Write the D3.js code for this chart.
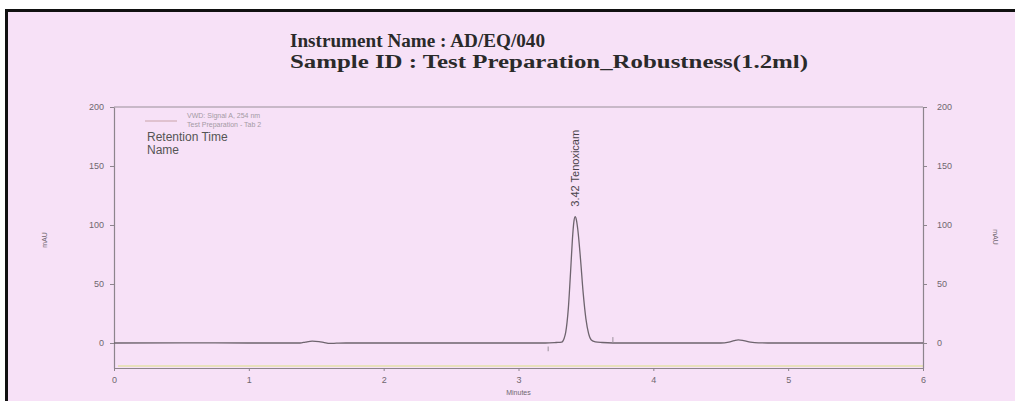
<!DOCTYPE html>
<html>
<head>
<meta charset="utf-8">
<script src="https://cdn.jsdelivr.net/npm/d3@7"></script>
<style>
  body { margin: 0; background: white; }
  svg { display: block; }
</style>
</head>
<body>
<script>
// chromatogram
var timeMin = [0.00, 0.50, 1.00, 1.38, 1.42, 1.47, 1.52, 1.56, 1.60, 1.65, 1.72, 2.50,
  3.20, 3.28, 3.32, 3.34, 3.35, 3.36, 3.37, 3.38, 3.39, 3.40, 3.41, 3.42, 3.43, 3.44,
  3.46, 3.48, 3.50, 3.52, 3.54, 3.57, 3.62, 3.70, 4.50, 4.56, 4.60, 4.63, 4.67, 4.72,
  4.78, 4.85, 6.00]
var signalMAU = [0, 0.1, 0, 0, 0.8, 1.5, 1.2, 0.3, -0.4, -0.2, 0, 0,
  0, 0.4, 0.7, 4.4, 9, 17.5, 30, 48, 68, 88, 102, 107, 104, 96,
  71, 42, 20.5, 8, 2.6, 1, 0.4, 0, 0, 0.8, 2, 2.6, 2, 0.8,
  0.1, 0, 0]
var xTicks = [0, 1, 2, 3, 4, 5, 6]
var yTicks = [0, 50, 100, 150, 200]
var markerTimes = [3.22, 3.70]
var peakTime = 3.42
var peakHeight = 107
var peakName = "3.42 Tenoxicam"
var titleLines = ["Instrument Name : AD/EQ/040", "Sample ID : Test Preparation_Robustness(1.2ml)"]
var legendLines = ["VWD: Signal A, 254 nm", "Test Preparation - Tab 2"]
var infoLines = ["Retention Time", "Name"]

var W = 1015, H = 401
var bg = "#f7e1f7"

var svg = d3.select("body").append("svg")
    .attr("width", W)
    .attr("height", H)

// pink sheet with black frame on left and top
svg.append("rect")
    .attr("x", 6.5).attr("y", 10.5)
    .attr("width", W + 10).attr("height", H + 10)
    .attr("fill", bg)
    .attr("stroke", "#111")
    .attr("stroke-width", 3)

var plotLeft = 114, plotRight = 923, plotTop = 107, plotBottom = 368

var x = d3.scaleLinear().domain([0, 6]).range([plotLeft, plotRight])
var y = d3.scaleLinear().domain([-21.2, 200]).range([plotBottom, plotTop])

// title
svg.selectAll(".title")
    .data(titleLines)
    .enter()
    .append("text")
    .attr("class", "title")
    .attr("x", 290)
    .attr("y", function(d, i) { return 47 + i * 21 })
    .attr("textLength", function(d, i) { return i == 0 ? 255 : 518 })
    .attr("lengthAdjust", "spacingAndGlyphs")
    .style("font-family", "'Liberation Serif', 'Times New Roman', serif")
    .style("font-weight", "bold")
    .style("font-size", "18px")
    .style("fill", "#2a2a2a")
    .text(function(d) { return d })

// frame line on top of the plot
svg.append("line")
    .attr("x1", plotLeft).attr("x2", plotRight)
    .attr("y1", plotTop).attr("y2", plotTop)
    .attr("stroke", "#9a8f9a").attr("stroke-width", 1.2)

// faint yellow line just above x axis
svg.append("line")
    .attr("x1", plotLeft + 4).attr("x2", plotRight)
    .attr("y1", plotBottom - 2).attr("y2", plotBottom - 2)
    .attr("stroke", "#e4e0a8").attr("stroke-width", 1.5)

var axisColor = "#8d848d"
var labelFont = "'Liberation Sans', Arial, sans-serif"

function styleAxis(g) {
    g.select(".domain").attr("stroke", axisColor).attr("stroke-width", 1.2)
    g.selectAll(".tick line").attr("stroke", axisColor)
    g.selectAll(".tick text")
        .style("font-family", labelFont)
        .style("font-size", "9px")
        .style("fill", "#6f676f")
}

svg.append("g")
    .attr("transform", "translate(0," + plotBottom + ")")
    .call(d3.axisBottom(x).tickValues(xTicks).tickFormat(d3.format("d"))
        .tickSize(3).tickSizeOuter(0).tickPadding(6))
    .call(styleAxis)

svg.append("g")
    .attr("transform", "translate(" + plotLeft + ",0)")
    .call(d3.axisLeft(y).tickValues(yTicks).tickFormat(d3.format("d"))
        .tickSize(4).tickSizeOuter(0).tickPadding(6))
    .call(styleAxis)

svg.append("g")
    .attr("transform", "translate(" + plotRight + ",0)")
    .call(d3.axisRight(y).tickValues(yTicks).tickFormat(d3.format("d"))
        .tickSize(4).tickSizeOuter(0).tickPadding(10))
    .call(styleAxis)

// axis titles
svg.append("text")
    .attr("x", x(3)).attr("y", 395)
    .attr("text-anchor", "middle")
    .style("font-family", labelFont)
    .style("font-size", "7px")
    .style("fill", "#6f676f")
    .text("Minutes")

svg.append("text")
    .attr("transform", "translate(47,240) rotate(-90)")
    .attr("text-anchor", "middle")
    .style("font-family", labelFont)
    .style("font-size", "7px")
    .style("fill", "#6f676f")
    .text("mAU")

svg.append("text")
    .attr("transform", "translate(993,237) rotate(90)")
    .attr("text-anchor", "middle")
    .style("font-family", labelFont)
    .style("font-size", "7px")
    .style("fill", "#6f676f")
    .text("mAU")

// legend
svg.append("line")
    .attr("x1", 145).attr("x2", 177)
    .attr("y1", 121).attr("y2", 121)
    .attr("stroke", "#c9a3a8").attr("stroke-width", 1)

svg.selectAll(".legend")
    .data(legendLines)
    .enter()
    .append("text")
    .attr("class", "legend")
    .attr("x", 187)
    .attr("y", function(d, i) { return 118 + i * 9 })
    .style("font-family", labelFont)
    .style("font-size", "7px")
    .style("fill", "#a49aa4")
    .text(function(d) { return d })

svg.selectAll(".info")
    .data(infoLines)
    .enter()
    .append("text")
    .attr("class", "info")
    .attr("x", 147)
    .attr("y", function(d, i) { return 141 + i * 13 })
    .style("font-family", labelFont)
    .style("font-size", "12px")
    .style("fill", "#555")
    .text(function(d) { return d })

// trace
var points = timeMin.map(function(t, i) { return [t, signalMAU[i]] })
var line = d3.line()
    .x(function(d) { return x(d[0]) })
    .y(function(d) { return y(d[1]) })
    .curve(d3.curveMonotoneX)

svg.append("path")
    .datum(points)
    .attr("d", line)
    .attr("fill", "none")
    .attr("stroke", "#6e646e")
    .attr("stroke-width", 1.3)

// integration marks
svg.selectAll(".mark")
    .data(markerTimes)
    .enter()
    .append("line")
    .attr("class", "mark")
    .attr("x1", function(d) { return x(d) })
    .attr("x2", function(d) { return x(d) })
    .attr("y1", function(d, i) { return i == 0 ? y(-3) : y(0) })
    .attr("y2", function(d, i) { return i == 0 ? y(-7) : y(5) })
    .attr("stroke", "#9a909a")
    .attr("stroke-width", 1)

// peak label
svg.append("text")
    .attr("transform", "translate(" + (x(peakTime) + 4) + "," + (y(peakHeight) - 10) + ") rotate(-90)")
    .attr("text-anchor", "start")
    .style("font-family", labelFont)
    .style("font-size", "11px")
    .style("fill", "#4a444a")
    .text(peakName)
</script>
</body>
</html>
